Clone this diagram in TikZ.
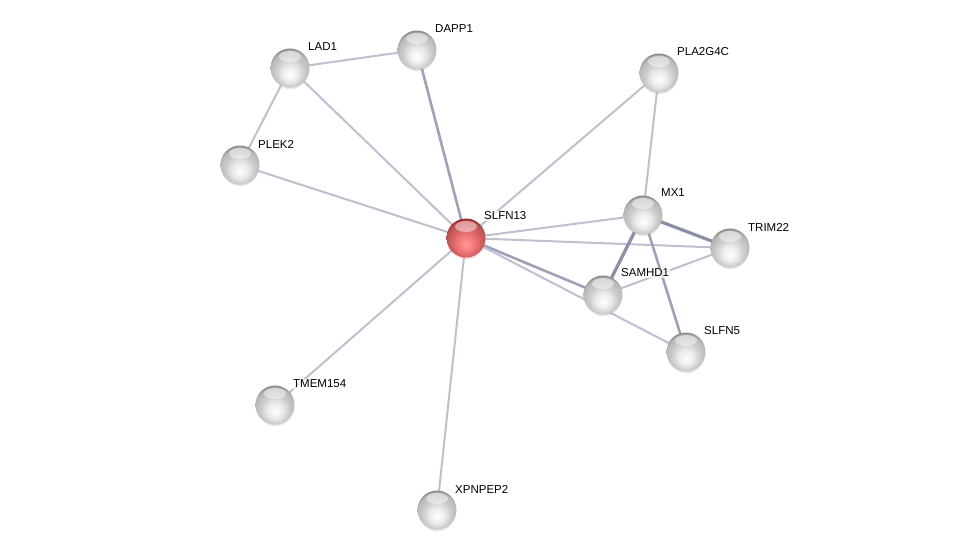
\documentclass[tikz,border=0pt]{standalone}
\usepackage{fontspec}
\setmainfont{Liberation Sans}
\usetikzlibrary{shadows,calc}
\definecolor{edgec}{RGB}{190,192,210}
\definecolor{medgec}{RGB}{158,162,184}
\definecolor{sedgec}{RGB}{138,143,168}
\pgfdeclareradialshading{greyball}{\pgfpoint{0bp}{-9bp}}{%
  color(0bp)=(white);
  color(10bp)=(white!92!black);
  color(18bp)=(white!80!black);
  color(26bp)=(white!72!black);
  color(30bp)=(white!45!black);
  color(50bp)=(white!45!black)}
\pgfdeclareradialshading{redball}{\pgfpoint{0bp}{-9bp}}{%
  color(0bp)=(red!40!white);
  color(10bp)=(red!50!white!95!black);
  color(18bp)=(red!55!white!85!black);
  color(26bp)=(red!55!white!72!black);
  color(30bp)=(red!70!black);
  color(50bp)=(red!70!black)}
\begin{document}
\begin{tikzpicture}[x=1pt,y=-1pt,
  prot/.style={circle,minimum size=39pt,inner sep=0pt,shading=greyball,
    circular drop shadow={shadow xshift=0pt,shadow yshift=-2.5pt,opacity=0.3,shadow scale=0.98},
    path picture={\fill[white,opacity=0.45] ($(path picture bounding box.north)+(0,8)$) ellipse [x radius=11,y radius=5.5];}},
  query/.style={prot,shading=redball},
  lbl/.style={anchor=west,font=\fontsize{11.5}{12}\selectfont,inner sep=1pt,fill=white,fill opacity=0.7,text opacity=1},
  edge/.style={draw=edgec,line width=2pt},
  medge/.style={draw=medgec,line width=2.6pt},
  sedge/.style={draw=sedgec,line width=3.2pt}]
\useasboundingbox (0,0) rectangle (975,555);
\fill[white] (0,0) rectangle (975,555);
% coordinates
\coordinate (cLAD1) at (290,68);
\coordinate (cDAPP1) at (417,50);
\coordinate (cPLA) at (659,73);
\coordinate (cPLEK2) at (240,165);
\coordinate (cSLFN13) at (466,238);
\coordinate (cMX1) at (643,215);
\coordinate (cTRIM22) at (730,248);
\coordinate (cSAMHD1) at (603,295);
\coordinate (cSLFN5) at (686,352);
\coordinate (cTMEM) at (275,405);
\coordinate (cXPN) at (437,510);
% edges
\draw[edge] (cLAD1) -- (cDAPP1);
\draw[edge] (cLAD1) -- (cPLEK2);
\draw[edge] (cLAD1) -- (cSLFN13);
\draw[medge] (cDAPP1) -- (cSLFN13);
\draw[edge] (cPLEK2) -- (cSLFN13);
\draw[edge] (cPLA) -- (cSLFN13);
\draw[edge] (cPLA) -- (cMX1);
\draw[edge] (cSLFN13) -- (cMX1);
\draw[edge] (cSLFN13) -- (cTRIM22);
\draw[medge] (cSLFN13) -- (cSAMHD1);
\draw[edge] (cSLFN13) -- (cSLFN5);
\draw[edge] (cSLFN13) -- (cTMEM);
\draw[edge] (cSLFN13) -- (cXPN);
\draw[sedge] (cMX1) -- (cTRIM22);
\draw[sedge] (cMX1) -- (cSAMHD1);
\draw[medge] (cMX1) -- (cSLFN5);
\draw[edge] (cSAMHD1) -- (cTRIM22);
% nodes
\node[prot] (LAD1) at (cLAD1) {};
\node[prot] (DAPP1) at (cDAPP1) {};
\node[prot] (PLA2G4C) at (cPLA) {};
\node[prot] (PLEK2) at (cPLEK2) {};
\node[query] (SLFN13) at (cSLFN13) {};
\node[prot] (MX1) at (cMX1) {};
\node[prot] (TRIM22) at (cTRIM22) {};
\node[prot] (SAMHD1) at (cSAMHD1) {};
\node[prot] (SLFN5) at (cSLFN5) {};
\node[prot] (TMEM154) at (cTMEM) {};
\node[prot] (XPNPEP2) at (cXPN) {};
% labels
\node[lbl] (lLAD1) at ([shift={(17,-21)}]cLAD1) {LAD1};
\node[lbl] (lDAPP1) at ([shift={(17,-21)}]cDAPP1) {DAPP1};
\node[lbl] (lPLA) at ([shift={(17,-21)}]cPLA) {PLA2G4C};
\node[lbl] (lPLEK2) at ([shift={(17,-21)}]cPLEK2) {PLEK2};
\node[lbl] (lSLFN13) at ([shift={(17,-22)}]cSLFN13) {SLFN13};
\node[lbl] (lMX1) at ([shift={(17,-22)}]cMX1) {MX1};
\node[lbl] (lTRIM22) at ([shift={(17,-21)}]cTRIM22) {TRIM22};
\node[lbl] (lSAMHD1) at ([shift={(17,-22)}]cSAMHD1) {SAMHD1};
\node[lbl] (lSLFN5) at ([shift={(17,-21)}]cSLFN5) {SLFN5};
\node[lbl] (lTMEM) at ([shift={(17,-21)}]cTMEM) {TMEM154};
\node[lbl] (lXPN) at ([shift={(17,-21)}]cXPN) {XPNPEP2};
\end{tikzpicture}
\end{document}
